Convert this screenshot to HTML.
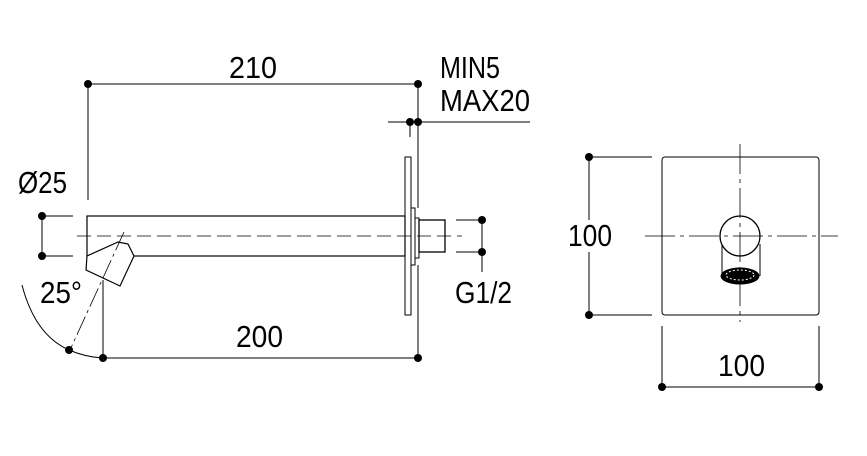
<!DOCTYPE html>
<html><head><style>
html,body{margin:0;padding:0;background:#fff;}
svg{display:block;}
text{font-family:"Liberation Sans",sans-serif;font-size:31px;fill:#000;}
</style></head><body>
<svg width="867" height="456" viewBox="0 0 867 456" xmlns="http://www.w3.org/2000/svg">
<g stroke="#000" stroke-width="1" fill="none">
<line x1="88" y1="84" x2="418" y2="84"/>
<line x1="88" y1="84" x2="88" y2="200"/>
<line x1="418" y1="84" x2="418" y2="208"/>
<line x1="418" y1="265" x2="418" y2="358"/>
<line x1="388" y1="122" x2="530" y2="122"/>
<line x1="410" y1="122" x2="410" y2="137"/>
<line x1="42" y1="216" x2="42" y2="256"/>
<line x1="42" y1="216" x2="73" y2="216"/>
<line x1="42" y1="256" x2="73" y2="256"/>
<rect x="87" y="216" width="318" height="40" stroke-width="1.2"/>
<line x1="77" y1="236" x2="462" y2="236" stroke-dasharray="14,6" stroke-width="0.8"/>
<rect x="405" y="157" width="6" height="158"/>
<rect x="411" y="208" width="4" height="57"/>
<rect x="415" y="218" width="4" height="40"/>
<rect x="419" y="220" width="26" height="32" stroke-width="1.3"/>
<line x1="456" y1="220" x2="482" y2="220"/>
<line x1="456" y1="252" x2="482" y2="252"/>
<line x1="482" y1="220" x2="482" y2="272"/>
<polygon points="87,256 118,242 128,244 134,256 120,286 86,270" fill="#fff" stroke-width="1.2"/>
<line x1="124" y1="232" x2="70" y2="350" stroke-width="0.8" stroke-dasharray="20,4,3,4"/>
<line x1="103" y1="280" x2="103" y2="358"/>
<path d="M22,285 Q35,335 69,350 Q85,357 103,358"/>
<line x1="103" y1="358" x2="418" y2="358"/>
<rect x="662" y="157" width="157" height="158" rx="3"/>
<line x1="589" y1="157" x2="652" y2="157"/>
<line x1="589" y1="315" x2="652" y2="315"/>
<line x1="589" y1="157" x2="589" y2="315"/>
<line x1="740" y1="144" x2="740" y2="322" stroke-width="0.8" stroke-dasharray="30,5,4,5"/>
<line x1="645" y1="236" x2="838" y2="236" stroke-width="0.8" stroke-dasharray="30,5,4,5"/>
<circle cx="740" cy="236" r="20" stroke-width="1.3"/>
<line x1="722" y1="244" x2="722" y2="276"/>
<line x1="760" y1="244" x2="760" y2="276"/>
<ellipse cx="740" cy="276" rx="19" ry="8" fill="#000"/>
<ellipse cx="740" cy="275" rx="14" ry="5" stroke="#fff" stroke-dasharray="2,2"/>
<line x1="662" y1="326" x2="662" y2="387"/>
<line x1="819" y1="326" x2="819" y2="387"/>
<line x1="662" y1="387" x2="819" y2="387"/>
</g>
<rect x="567" y="220" width="47" height="32" fill="#fff"/>
<g fill="#000">
<circle cx="88" cy="84" r="4"/><circle cx="418" cy="84" r="4"/>
<circle cx="410" cy="122" r="4"/><circle cx="418" cy="122" r="4"/>
<circle cx="42" cy="216" r="4"/><circle cx="42" cy="256" r="4"/>
<circle cx="482" cy="220" r="4"/><circle cx="482" cy="252" r="4"/>
<circle cx="69" cy="350" r="4"/><circle cx="103" cy="358" r="4"/><circle cx="418" cy="358" r="4"/>
<circle cx="589" cy="157" r="4"/><circle cx="589" cy="315" r="4"/>
<circle cx="662" cy="387" r="4"/><circle cx="819" cy="387" r="4"/>
</g>
<text x="229" y="78" textLength="48" lengthAdjust="spacingAndGlyphs">210</text>
<text x="440" y="78" textLength="60" lengthAdjust="spacingAndGlyphs">MIN5</text>
<text x="440" y="111" textLength="90" lengthAdjust="spacingAndGlyphs">MAX20</text>
<text x="18" y="193" textLength="49" lengthAdjust="spacingAndGlyphs">Ø25</text>
<text x="40" y="303" textLength="42" lengthAdjust="spacingAndGlyphs">25°</text>
<text x="455" y="303" textLength="57" lengthAdjust="spacingAndGlyphs">G1/2</text>
<text x="236" y="347" textLength="47" lengthAdjust="spacingAndGlyphs">200</text>
<text x="568" y="246" textLength="44" lengthAdjust="spacingAndGlyphs">100</text>
<text x="718" y="376" textLength="47" lengthAdjust="spacingAndGlyphs">100</text>
</svg>
</body></html>
